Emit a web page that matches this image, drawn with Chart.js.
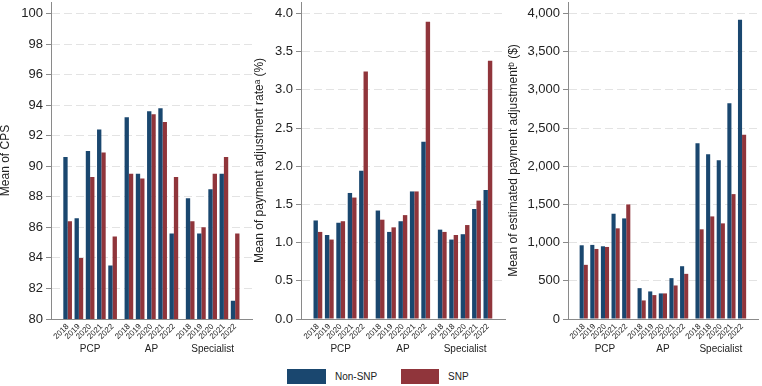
<!DOCTYPE html>
<html><head><meta charset="utf-8">
<script src="https://cdn.jsdelivr.net/npm/chart.js@4.4.1/dist/chart.umd.min.js"></script>
<style>
html,body{margin:0;padding:0;background:#fff;width:762px;height:386px;overflow:hidden;font-family:'Liberation Sans',Arial,sans-serif;color:#222}
canvas{position:absolute;top:0}
.key{position:absolute;top:369px;height:15px}
.lbl{position:absolute;top:369px;font-size:10px;line-height:15px}
</style></head><body>
<canvas id="c1" width="254" height="360" style="left:0px"></canvas>
<canvas id="c2" width="254" height="360" style="left:254px"></canvas>
<canvas id="c3" width="254" height="360" style="left:508px"></canvas>
<div class="key" style="left:287px;width:39px;background:#1a476f"></div>
<div class="lbl" style="left:335px">Non-SNP</div>
<div class="key" style="left:401px;width:38px;background:#90353b"></div>
<div class="lbl" style="left:448px">SNP</div>
<script>
// ---- data ----
const groups = ['PCP', 'AP', 'Specialist'];
const years1 = ['2018','2019','2020','2021','2022', '2018','2019','2020','2021','2022', '2018','2019','2020','2021','2022'];
const years2 = ['2018','2019','2020','2021','2022', '2018','2019','2020','2021','2022', '2018','2018','2020','2021','2022'];
const years3 = ['2018','2019','2020','2021','2022', '2018','2019','2020','2021','2022', '2018','2018','2020','2021','2022'];

const cpsNonSNP = [90.6, 86.6, 91.0, 92.4, 83.5, 93.2, 89.5, 93.6, 93.8, 85.6, 87.9, 85.6, 88.5, 89.5, 81.2];
const cpsSNP    = [86.4, 84.0, 89.3, 90.9, 85.4, 89.5, 89.2, 93.4, 92.9, 89.3, 86.4, 86.0, 89.5, 90.6, 85.6];
const rateNonSNP = [1.29, 1.10, 1.26, 1.65, 1.94, 1.42, 1.14, 1.28, 1.67, 2.32, 1.17, 1.04, 1.11, 1.44, 1.69];
const rateSNP    = [1.14, 1.04, 1.28, 1.59, 3.24, 1.30, 1.20, 1.36, 1.67, 3.89, 1.14, 1.10, 1.23, 1.55, 3.38];
const adjNonSNP = [965, 970, 952, 1378, 1317, 404, 361, 335, 535, 691, 2300, 2157, 2078, 2826, 3917];
const adjSNP    = [709, 917, 943, 1187, 1500, 243, 313, 335, 439, 591, 1174, 1343, 1252, 1635, 2413];

const cpsTicks  = [80, 82, 84, 86, 88, 90, 92, 94, 96, 98, 100];
const rateTicks = [0, 0.5, 1.0, 1.5, 2.0, 2.5, 3.0, 3.5, 4.0];
const adjTicks  = [0, 500, 1000, 1500, 2000, 2500, 3000, 3500, 4000];

// ---- layout helpers ----
const FONT = "'Liberation Sans', Arial, sans-serif";
const GAP = 0.45;           // extra space between groups (in bar-slot units)
const PER = years1.length / groups.length;
const pos = i => i + Math.floor(i / PER) * GAP;
const positions = years1.map((_, i) => pos(i));
const groupCenters = groups.map((_, g) => (pos(g * PER) + pos(g * PER + PER - 1)) / 2);
const xMin = -1.48, xMax = pos(years1.length - 1) + 1.5;

function panel(id, opt) {
  const yMin = opt.ticks[0], yTop = opt.ticks[opt.ticks.length - 1];
  const yMax = yTop + (yTop - yMin) * 0.0375;
  new Chart(document.getElementById(id), {
    type: 'bar',
    data: {
      datasets: [
        { label: 'Non-SNP', data: positions.map((p, i) => ({x: p, y: opt.a[i]})), backgroundColor: '#1a476f' },
        { label: 'SNP', data: positions.map((p, i) => ({x: p, y: opt.b[i]})), backgroundColor: '#90353b' }
      ]
    },
    options: {
      responsive: false, animation: false,
      layout: { padding: { top: 2, right: opt.padRight, left: 0, bottom: 0 } },
      datasets: { bar: { categoryPercentage: 0.77, barPercentage: 1.0, borderWidth: 0, xAxisID: 'x', yAxisID: 'y' } },
      plugins: { legend: { display: false }, tooltip: { enabled: false } },
      scales: {
        y: {
          type: 'linear', min: yMin, max: yMax,
          afterBuildTicks: s => { s.ticks = opt.ticks.map(v => ({value: v})); },
          afterFit: s => { s.width = opt.axisWidth; s.paddingTop = 0; s.paddingBottom = 0; },
          ticks: { callback: opt.fmt, font: { size: 13, family: FONT }, color: '#222', padding: 3 },
          grid: {
            color: c => (c.tick && c.tick.value === yMin) ? 'rgba(0,0,0,0)' : '#e3e3e3',
            lineWidth: 1, drawTicks: true, tickLength: 5, tickColor: '#8a8a8a'
          },
          border: { display: true, color: '#8a8a8a', width: 1, dash: [8, 4] },
          title: { display: true, text: opt.title, color: '#222',
                   font: { size: 12, family: FONT, lineHeight: 1 }, padding: { top: 0, bottom: 0 } }
        },
        x: {
          type: 'linear', position: 'bottom', min: xMin, max: xMax, offset: false, weight: 1,
          afterBuildTicks: s => { s.ticks = positions.map(v => ({value: v})); },
          afterFit: s => { s.height = 21; s.paddingLeft = 0; s.paddingRight = 0; },
          ticks: { autoSkip: false, maxRotation: 45, minRotation: 45, padding: 3,
                   font: { size: 8, family: FONT }, color: '#222', callback: (v, i) => opt.years[i] },
          grid: { display: false, drawTicks: false },
          border: { display: true, color: '#8a8a8a', width: 1 }
        },
        xg: {
          type: 'linear', position: 'bottom', min: xMin, max: xMax, offset: false, weight: 2,
          afterBuildTicks: s => { s.ticks = groupCenters.map(v => ({value: v})); },
          afterFit: s => { s.height = 20; s.paddingLeft = 0; s.paddingRight = 0; },
          ticks: { autoSkip: false, maxRotation: 0, minRotation: 0, padding: 3,
                   font: { size: 10, family: FONT }, color: '#222', callback: (v, i) => groups[i] },
          grid: { display: false, drawTicks: false },
          border: { display: false }
        }
      }
    }
  });
}

panel('c1', { a: cpsNonSNP, b: cpsSNP, ticks: cpsTicks, years: years1, axisWidth: 51, padRight: 2,
  fmt: v => String(v), title: 'Mean of CPS' });
panel('c2', { a: rateNonSNP, b: rateSNP, ticks: rateTicks, years: years2, axisWidth: 47, padRight: 3,
  fmt: v => Number(v).toFixed(1), title: 'Mean of payment adjustment rate\u1D43 (%)' });
panel('c3', { a: adjNonSNP, b: adjSNP, ticks: adjTicks, years: years3, axisWidth: 60, padRight: 4,
  fmt: v => Number(v).toLocaleString('en-US'), title: 'Mean of estimated payment adjustment\u1D47 ($)' });
</script>
</body></html>
